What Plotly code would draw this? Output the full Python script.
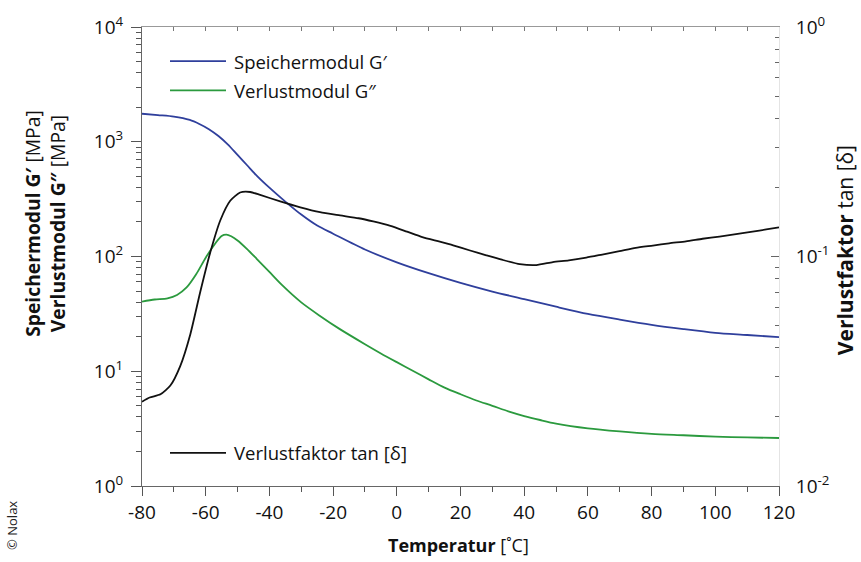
import plotly.graph_objects as go

# ---- data ----
temp_gs = [-80, -75, -70, -65, -62, -59, -56, -53, -50, -47, -44, -40, -35, -30, -25, -20,
           -10, 0, 10, 20, 30, 40, 50, 60, 70, 80, 90, 100, 110, 120]
g_storage = [1754, 1706, 1656, 1549, 1429, 1288, 1122, 944, 767, 624, 507, 398, 301, 232,
             186, 158, 115, 89, 71.6, 58.9, 49.5, 42.5, 36.5, 31.6, 28.2, 25.4, 23.3,
             21.6, 20.7, 19.8]

temp_gl = [-80, -76, -72, -69, -66, -63, -60, -57, -55, -53.5, -52, -50, -47, -44, -40, -36,
           -30, -24, -18, -10, -5, 0, 5, 10, 15, 20, 25, 30, 35, 40, 45, 50, 60, 70, 80,
           90, 100, 110, 120]
g_loss = [40.5, 42.2, 43.2, 46.2, 53.7, 70, 97.7, 130, 151, 155, 150, 138, 116, 95.5, 73.3,
          56.2, 39.8, 30.2, 23.4, 17.2, 14.3, 12.0, 10.1, 8.5, 7.2, 6.3, 5.56, 5.0, 4.47,
          4.07, 3.76, 3.5, 3.18, 2.99, 2.85, 2.77, 2.69, 2.65, 2.62]

temp_tan = [-80, -77.6, -74.2, -71.1, -68, -64.8, -61.7, -58.6, -55.4, -52.3, -49.2, -46,
            -42.9, -36.6, -30.3, -24.1, -17.8, -12, -7.4, -2, 3.2, 8, 13.5, 17.7, 23,
            28.1, 33, 38.6, 43.8, 49, 54, 59.5, 64.5, 69.9, 75, 80.4, 85.5, 90.8, 96,
            101.3, 106.5, 111.7, 116, 120]
tan_delta = [0.0233, 0.0243, 0.0251, 0.0274, 0.0333, 0.0460, 0.0702, 0.1038, 0.1439,
             0.175, 0.190, 0.191, 0.1855, 0.1738, 0.1638, 0.156, 0.151, 0.1468, 0.1422,
             0.136, 0.1283, 0.1215, 0.1160, 0.1118, 0.1062, 0.1012, 0.0968, 0.0927,
             0.0918, 0.0945, 0.0962, 0.0989, 0.1020, 0.1055, 0.1090, 0.1116, 0.1142,
             0.1164, 0.1195, 0.1222, 0.1252, 0.1283, 0.1312, 0.1339]

x_tickvals = [-80, -60, -40, -20, 0, 20, 40, 60, 80, 100, 120]
x_ticktext = ["-80", "-60", "-40", "-20", "0", "20", "40", "60", "80", "100", "120"]
left_tickvals = [1, 10, 100, 1000, 10000]
left_ticktext = ["10<sup>0</sup>", "10<sup>1</sup>", "10<sup>2</sup>", "10<sup>3</sup>", "10<sup>4</sup>"]
right_tickvals = [0.01, 0.1, 1]
right_ticktext = ["10<sup>-2</sup>", "10<sup>-1</sup>", "10<sup>0</sup>"]

label_gs = "Speichermodul G\u2032"
label_gl = "Verlustmodul G\u2033"
label_tan = "Verlustfaktor tan [\u03b4]"

BLUE = "#2f3f9c"
GREEN = "#2b9a3e"
BLACK = "#111111"
FONT = "Open Sans"

minor_left = [m * 10 ** e for e in range(0, 4) for m in range(2, 10)]
minor_right = [m * 10.0 ** e for e in range(-2, 0) for m in range(2, 10)]

fig = go.Figure()
fig.add_trace(go.Scatter(x=temp_gs, y=g_storage, mode="lines", name=label_gs,
                         line=dict(color=BLUE, width=1.8, shape="spline", smoothing=0.8),
                         xaxis="x", yaxis="y"))
fig.add_trace(go.Scatter(x=temp_gl, y=g_loss, mode="lines", name=label_gl,
                         line=dict(color=GREEN, width=1.8, shape="spline", smoothing=0.8),
                         xaxis="x", yaxis="y"))
fig.add_trace(go.Scatter(x=temp_tan, y=tan_delta, mode="lines", name=label_tan,
                         line=dict(color=BLACK, width=1.8, shape="spline", smoothing=0.6),
                         xaxis="x", yaxis="y2"))
# helper trace so the top mirror axis is drawn
fig.add_trace(go.Scatter(x=[-80, 120], y=[1, 1], mode="lines", line=dict(width=0),
                         hoverinfo="skip", showlegend=False, xaxis="x2", yaxis="y"))

fig.update_layout(
    width=861, height=562,
    margin=dict(l=142, r=82, t=15, b=76),
    paper_bgcolor="white", plot_bgcolor="white",
    showlegend=False,
    font=dict(family=FONT, color="#111111", size=18),
    xaxis=dict(range=[-80, 120], tickmode="array", tickvals=x_tickvals, ticktext=x_ticktext,
               ticks="outside", ticklen=9, tickwidth=1, tickcolor="#555",
               showline=True, linecolor="#666", linewidth=1, showgrid=False,
               zeroline=False, ticklabeloverflow="allow",
               tickfont=dict(size=19, family=FONT),
               minor=dict(ticks="outside", ticklen=5, dtick=10, tick0=-80,
                          tickcolor="#555", showgrid=False)),
    xaxis2=dict(range=[-80, 120], overlaying="x", side="top", anchor="y",
                ticks="inside", ticklen=4, tick0=-80, dtick=10, tickcolor="#777",
                showticklabels=False, showline=True, linecolor="#999",
                showgrid=False, zeroline=False),
    yaxis=dict(type="log", range=[0, 4], tickmode="array", tickvals=left_tickvals,
               ticktext=left_ticktext, ticks="outside", ticklen=10, tickcolor="#555",
               showline=True, linecolor="#666", linewidth=1, showgrid=False,
               zeroline=False, ticklabeloverflow="allow", ticklabelstandoff=4,
               tickfont=dict(size=19, family=FONT),
               minor=dict(ticks="outside", ticklen=5, tickmode="array",
                          tickvals=minor_left, tickcolor="#555", showgrid=False)),
    yaxis2=dict(type="log", range=[-2, 0], overlaying="y", side="right", anchor="x",
                tickmode="array", tickvals=right_tickvals, ticktext=right_ticktext,
                ticks="inside", ticklen=8, tickcolor="#666", showline=True,
                linecolor="#e4e4e4", showgrid=False, zeroline=False,
                ticklabeloverflow="allow", ticklabelstandoff=12,
                tickfont=dict(size=19, family=FONT),
                minor=dict(ticks="inside", ticklen=4, tickmode="array",
                           tickvals=minor_right, tickcolor="#666", showgrid=False)),
)

def px_x(p):
    return (p - 142) / 637.0

def px_y(p):
    return (486 - p) / 471.0

# legend drawn as line samples + labels
legend_items = [(label_gs, BLUE, 50), (label_gl, GREEN, 80), (label_tan, BLACK, 452)]
for text, color, ypix in legend_items:
    fig.add_shape(type="line", xref="paper", yref="paper",
                  x0=px_x(170), x1=px_x(226), y0=px_y(ypix), y1=px_y(ypix),
                  line=dict(color=color, width=1.8))
    fig.add_annotation(text=text, xref="paper", yref="paper", x=px_x(232), y=px_y(ypix),
                       xanchor="left", yanchor="middle", showarrow=False,
                       font=dict(size=18.5, family=FONT, color="#111"))

fig.add_annotation(text="<b>Speichermodul G\u2032</b> [MPa]<br><b>Verlustmodul G\u2033</b> [MPa]",
                   xref="paper", yref="paper", x=px_x(45), y=px_y(217), textangle=-90,
                   xanchor="center", yanchor="middle", showarrow=False, align="center",
                   font=dict(size=19.3, family=FONT, color="#111"))
fig.add_annotation(text="<b>Verlustfaktor</b> tan [\u03b4]",
                   xref="paper", yref="paper", x=px_x(845), y=px_y(244), textangle=-90,
                   xanchor="center", yanchor="middle", showarrow=False,
                   font=dict(size=21, family=FONT, color="#111"))
fig.add_annotation(text="<b>Temperatur</b> [\u02daC]",
                   xref="paper", yref="paper", x=px_x(458), y=px_y(547),
                   xanchor="center", yanchor="middle", showarrow=False,
                   font=dict(size=18, family=FONT, color="#111"))
fig.add_annotation(text="\u00a9 Nolax",
                   xref="paper", yref="paper", x=px_x(12), y=px_y(527), textangle=-90,
                   xanchor="center", yanchor="middle", showarrow=False,
                   font=dict(size=13, family=FONT, color="#222"))

fig.write_html("out.html")
